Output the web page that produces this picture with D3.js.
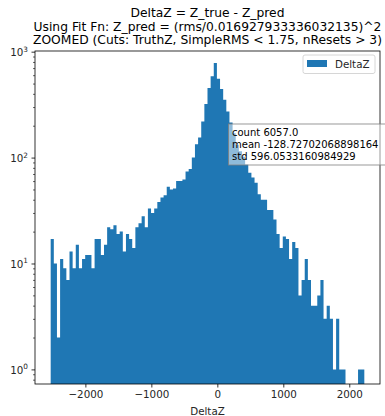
<!DOCTYPE html>
<html>
<head>
<meta charset="utf-8">
<script src="https://cdnjs.cloudflare.com/ajax/libs/d3/7.8.5/d3.min.js"></script>
<style>
body { margin: 0; background: #fff; }
svg { display: block; font-family: 'DejaVu Sans', sans-serif; }
</style>
</head>
<body>
<svg id="chart"></svg>
<script>
// title, three lines like the original
const titleLines = [
	'DeltaZ = Z_true - Z_pred',
	'Using Fit Fn: Z_pred = (rms/0.016927933336032135)^2',
	'ZOOMED (Cuts: TruthZ, SimpleRMS < 1.75, nResets > 3)'
];

// histogram: 100 equal bins between binLo and binHi
const binLo = -2526, binHi = 2228;
const counts = [
	17, 10, 2, 11, 9, 7, 13, 9, 15, 9,
	11, 12, 12, 9, 17, 17, 12, 15, 22, 21,
	23, 19, 20, 13, 19, 17, 14, 22, 24, 28,
	22, 33, 30, 33, 38, 42, 44, 53, 50, 51,
	60, 60, 62, 74, 78, 100, 134, 155, 219, 321,
	454, 585, 780, 555, 444, 352, 273, 215, 170, 132,
	115, 102, 86, 72, 65, 58, 45, 40, 40, 32,
	32, 26, 19, 14, 18, 17, 11, 16, 14, 5,
	7, 11, 7, 4, 4, 5, 7, 3, 4, 3,
	1, 3, 1, 1, 0, 0, 0, 0, 1, 1
];
const seriesName = 'DeltaZ';
const xLabel = 'DeltaZ';

const xTicks = [-2000, -1000, 0, 1000, 2000];
const yTicks = [1, 10, 100, 1000];
const yTickExps = ['0', '1', '2', '3'];

const statLines = ['count 6057.0', 'mean -128.72702068898164', 'std 596.0533160984929'];

let W = 385, H = 416;
let plot = { left: 35, right: 380, top: 51, bottom: 384 };
let blue = '#1f77b4';

const svg = d3.select('#chart')
	.attr('width', W)
	.attr('height', H);

// bin edges from the range and the number of bins
let nb = counts.length;
let bw = (binHi - binLo) / nb;
let bins = counts.map((c, i) => ({ x0: binLo + i * bw, c: c }));
// extra point closing the last bin
bins.push({ x0: binHi, c: counts[nb - 1] });

// matplotlib pads the x range by 5% each side
let pad = (binHi - binLo) * 0.05;
const x = d3.scaleLinear()
	.domain([binLo - pad, binHi + pad])
	.range([plot.left, plot.right]);

const y = d3.scaleLog()
	.domain([0.728, 1015])
	.range([plot.bottom, plot.top]);

svg.append('clipPath').attr('id', 'clip')
	.append('rect')
	.attr('x', plot.left).attr('y', plot.top)
	.attr('width', plot.right - plot.left).attr('height', plot.bottom - plot.top);

// one stepped shape so the bars don't get seams between them
const area = d3.area()
	.curve(d3.curveStepAfter)
	.x(d => x(d.x0))
	.y0(plot.bottom)
	.y1(d => d.c > 0 ? y(d.c) : plot.bottom);

svg.append('path')
	.attr('clip-path', 'url(#clip)')
	.datum(bins)
	.attr('d', area)
	.attr('fill', blue);

// x axis
const xAxis = d3.axisBottom(x)
	.tickValues(xTicks)
	.tickSize(3.5)
	.tickPadding(3.5)
	.tickFormat(d3.format('d'));

let gx = svg.append('g')
	.attr('transform', 'translate(0,' + plot.bottom + ')')
	.call(xAxis);
gx.select('.domain').remove();
gx.selectAll('line').attr('stroke', '#000').attr('stroke-width', 0.8);
gx.selectAll('text')
	.attr('font-family', 'DejaVu Sans')
	.attr('font-size', 10.3)
	.attr('fill', '#262626');

// y axis, major ticks then minor ones
const yAxis = d3.axisLeft(y)
	.tickValues(yTicks)
	.tickSize(3.5)
	.tickFormat('');
let gy = svg.append('g')
	.attr('transform', 'translate(' + plot.left + ',0)')
	.call(yAxis);
gy.select('.domain').remove();
gy.selectAll('line').attr('stroke', '#000').attr('stroke-width', 0.8);

let minor = y.ticks().filter(d => yTicks.indexOf(d) < 0);
let gym = svg.append('g')
	.attr('transform', 'translate(' + plot.left + ',0)')
	.call(d3.axisLeft(y).tickValues(minor).tickSize(2).tickFormat(''));
gym.select('.domain').remove();
gym.selectAll('line').attr('stroke', '#000').attr('stroke-width', 0.6);

// 10^k labels with a raised exponent
yTicks.forEach((t, i) => {
	let tx = svg.append('text')
		.attr('x', plot.left - 7)
		.attr('y', y(t) + 4.6)
		.attr('text-anchor', 'end')
		.attr('font-size', 10.3)
		.attr('fill', '#262626');
	tx.append('tspan').text('10');
	tx.append('tspan')
		.attr('dy', -4.6)
		.attr('font-size', 7.3)
		.text(yTickExps[i]);
});

// spines
svg.append('rect')
	.attr('x', plot.left).attr('y', plot.top)
	.attr('width', plot.right - plot.left).attr('height', plot.bottom - plot.top)
	.attr('fill', 'none')
	.attr('stroke', '#000')
	.attr('stroke-width', 0.8);

// titles
svg.selectAll('.title')
	.data(titleLines)
	.enter()
	.append('text')
	.attr('class', 'title')
	.attr('x', (plot.left + plot.right) / 2)
	.attr('y', (d, i) => 16.6 + i * 13.9)
	.attr('text-anchor', 'middle')
	.attr('font-size', 12.3)
	.attr('fill', '#000')
	.text(d => d);

svg.append('text')
	.attr('x', (plot.left + plot.right) / 2)
	.attr('y', 414.6)
	.attr('text-anchor', 'middle')
	.attr('font-size', 10.3)
	.attr('fill', '#262626')
	.text(xLabel);

// legend
let lg = svg.append('g');
lg.append('rect')
	.attr('x', 303).attr('y', 55)
	.attr('width', 72).attr('height', 18.5)
	.attr('rx', 2)
	.attr('fill', '#fff').attr('fill-opacity', 0.8)
	.attr('stroke', '#ccc').attr('stroke-width', 0.8);
lg.append('rect')
	.attr('x', 307).attr('y', 60)
	.attr('width', 20).attr('height', 7)
	.attr('fill', blue);
lg.append('text')
	.attr('x', 335).attr('y', 67.6)
	.attr('font-size', 10.3)
	.attr('fill', '#262626')
	.text(seriesName);

// stats box
svg.append('rect')
	.attr('x', 228.5).attr('y', 124)
	.attr('width', 162).attr('height', 41)
	.attr('fill', '#fff').attr('fill-opacity', 0.5)
	.attr('stroke', '#7f7f7f').attr('stroke-width', 0.8);
svg.selectAll('.stat')
	.data(statLines)
	.enter()
	.append('text')
	.attr('class', 'stat')
	.attr('x', 232)
	.attr('y', (d, i) => 136 + i * 12)
	.attr('font-size', 10)
	.attr('fill', '#000')
	.text(d => d);
</script>
</body>
</html>
